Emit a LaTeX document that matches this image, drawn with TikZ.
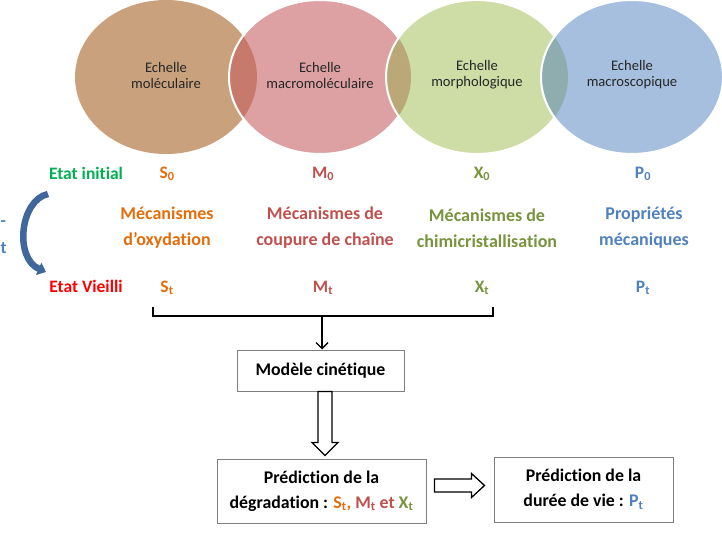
\documentclass[tikz,border=0pt]{standalone}
\usepackage{fontspec}
\setmainfont[Ligatures=NoCommon]{Carlito}
\usetikzlibrary{arrows.meta,calc}
\definecolor{cbrown}{HTML}{C9A17D}
\definecolor{cpink}{HTML}{DEA1A3}
\definecolor{cgreen}{HTML}{CEDDA6}
\definecolor{cblue}{HTML}{A6BFDF}
\definecolor{cbp}{HTML}{C77A6B}
\definecolor{cpg}{HTML}{BBA878}
\definecolor{cgb}{HTML}{8FADAE}
\definecolor{corange}{HTML}{E46C0A}
\definecolor{cred}{HTML}{C0504D}
\definecolor{colive}{HTML}{77933C}
\definecolor{cbluet}{HTML}{4F81BD}
\definecolor{cinit}{HTML}{00B050}
\definecolor{cvieil}{HTML}{FF0000}
\definecolor{carrow}{HTML}{3F679C}
\definecolor{cbox}{HTML}{7F7F7F}
\begin{document}
\begin{tikzpicture}[x=1pt,y=-1pt,
  ell/.style={x radius=91, y radius=77},
  scaletxt/.style={align=center, text=black!85, font=\fontsize{14.6}{16}\selectfont, inner sep=0},
  lab/.style={font=\bfseries\fontsize{17.5}{20}\selectfont, inner sep=0},
  mech/.style={align=center, font=\bfseries\fontsize{18}{26}\selectfont, inner sep=0},
  box/.style={draw=cbox, line width=1, fill=white, align=center, font=\bfseries\fontsize{17.8}{25}\selectfont, inner sep=0},
  hollow/.style={draw=black, line width=1.3, fill=white, line join=miter}
]
\useasboundingbox (0,0) rectangle (722,548);
% ellipses
\fill[cbrown] (166,77) ellipse [ell];
\fill[cpink] (320,77) ellipse [ell];
\begin{scope}\clip (166,77) ellipse [ell]; \fill[cbp] (320,77) ellipse [ell];\end{scope}
\draw[white, line width=2] (320,77) ellipse [ell];
\fill[cgreen] (477,77) ellipse [ell];
\begin{scope}\clip (320,77) ellipse [ell]; \fill[cpg] (477,77) ellipse [ell];\end{scope}
\draw[white, line width=2] (477,77) ellipse [ell];
\fill[cblue] (632,77) ellipse [ell];
\begin{scope}\clip (477,77) ellipse [ell]; \fill[cgb] (632,77) ellipse [ell];\end{scope}
\draw[white, line width=2] (632,77) ellipse [ell];
\node[scaletxt] (e1) at (166,75) {Echelle\\moléculaire};
\node[scaletxt] (e2) at (320,75) {Echelle\\macromoléculaire};
\node[scaletxt] (e3) at (477,75) {Echelle\\morphologique};
\node[scaletxt] (e4) at (632,75) {Echelle\\macroscopique};
% row labels
\node[lab, text=cinit] (init) at (86,173) {Etat initial};
\node[lab, text=cvieil] (vieil) at (86,286) {Etat Vieilli};
\node[lab, text=corange] (s0) at (167,174) {S\textsubscript{0}};
\node[lab, text=cred] (m0) at (323,174) {M\textsubscript{0}};
\node[lab, text=colive] (x0) at (482,174) {X\textsubscript{0}};
\node[lab, text=cbluet] (p0) at (643,174) {P\textsubscript{0}};
\node[lab, text=corange] (st) at (167,288) {S\textsubscript{t}};
\node[lab, text=cred] (mt) at (323,288) {M\textsubscript{t}};
\node[lab, text=colive] (xt) at (482,288) {X\textsubscript{t}};
\node[lab, text=cbluet] (pt) at (643,288) {P\textsubscript{t}};
\node[mech, text=corange] (mo) at (167,228) {Mécanismes\\d’oxydation};
\node[mech, text=cred] (mc) at (325,228) {Mécanismes de\\coupure de chaîne};
\node[mech, text=colive] (mx) at (487,228) {Mécanismes de\\chimicristallisation};
\node[mech, text=cbluet] (mp) at (644,228) {Propriétés\\mécaniques};
\node[lab, text=cbluet, anchor=west] (lm) at (0.5,224) {-};
\node[lab, text=cbluet, anchor=west] (lt) at (0.5,248) {t};
% curved arrow
\coordinate (ca) at (48,194);
\coordinate (cb) at (46,272);
\draw[carrow, line width=6.5, -{Triangle[length=8pt,width=13pt]}] (ca) .. controls (20,200) and (14,258) .. (cb);
% bracket
\coordinate (bl) at (153,307);
\coordinate (br) at (493,307);
\coordinate (bm) at (322,316);
\draw[line width=1.3] (bl) |- (bm) -| (br);
% model box
\node[box, minimum width=167, minimum height=41] (model) at (320.5,370.5) {Modèle cinétique};
\draw[line width=1.3, -{Straight Barb[length=6pt,width=12pt]}] (bm) -- (model.north -| bm);
% prediction boxes
\node[box, minimum width=209, minimum height=64] (pred) at (321.5,491) {Prédiction de la\\dégradation : \textcolor{corange}{S\textsubscript{t},} \textcolor{cred}{M\textsubscript{t} et} \textcolor{colive}{X\textsubscript{t}}};
\node[box, minimum width=179, minimum height=65] (vie) at (583.5,489.5) {Prédiction de la\\durée de vie : \textcolor{cbluet}{P\textsubscript{t}}};
% hollow arrows
\coordinate (va) at ($(model.south)+(4.5,0)$);
\coordinate (vt) at ($(pred.north)+(3.5,-3)$);
\draw[hollow] ($(va)+(-7,0)$) -- ($(va)+(7,0)$) -- ($(vt)+(7,-13)$) -- ($(vt)+(13,-13)$) -- (vt) -- ($(vt)+(-13,-13)$) -- ($(vt)+(-7,-13)$) -- cycle;
\coordinate (ha) at ($(pred.east)+(8,-5.5)$);
\coordinate (ht) at ($(vie.west)+(-9,-4)$);
\draw[hollow] ($(ha)+(0,-6.5)$) -- ($(ht)+(-13,-6.5)$) -- ($(ht)+(-13,-12)$) -- (ht) -- ($(ht)+(-13,12)$) -- ($(ht)+(-13,6.5)$) -- ($(ha)+(0,6.5)$) -- cycle;
\end{tikzpicture}
\end{document}
